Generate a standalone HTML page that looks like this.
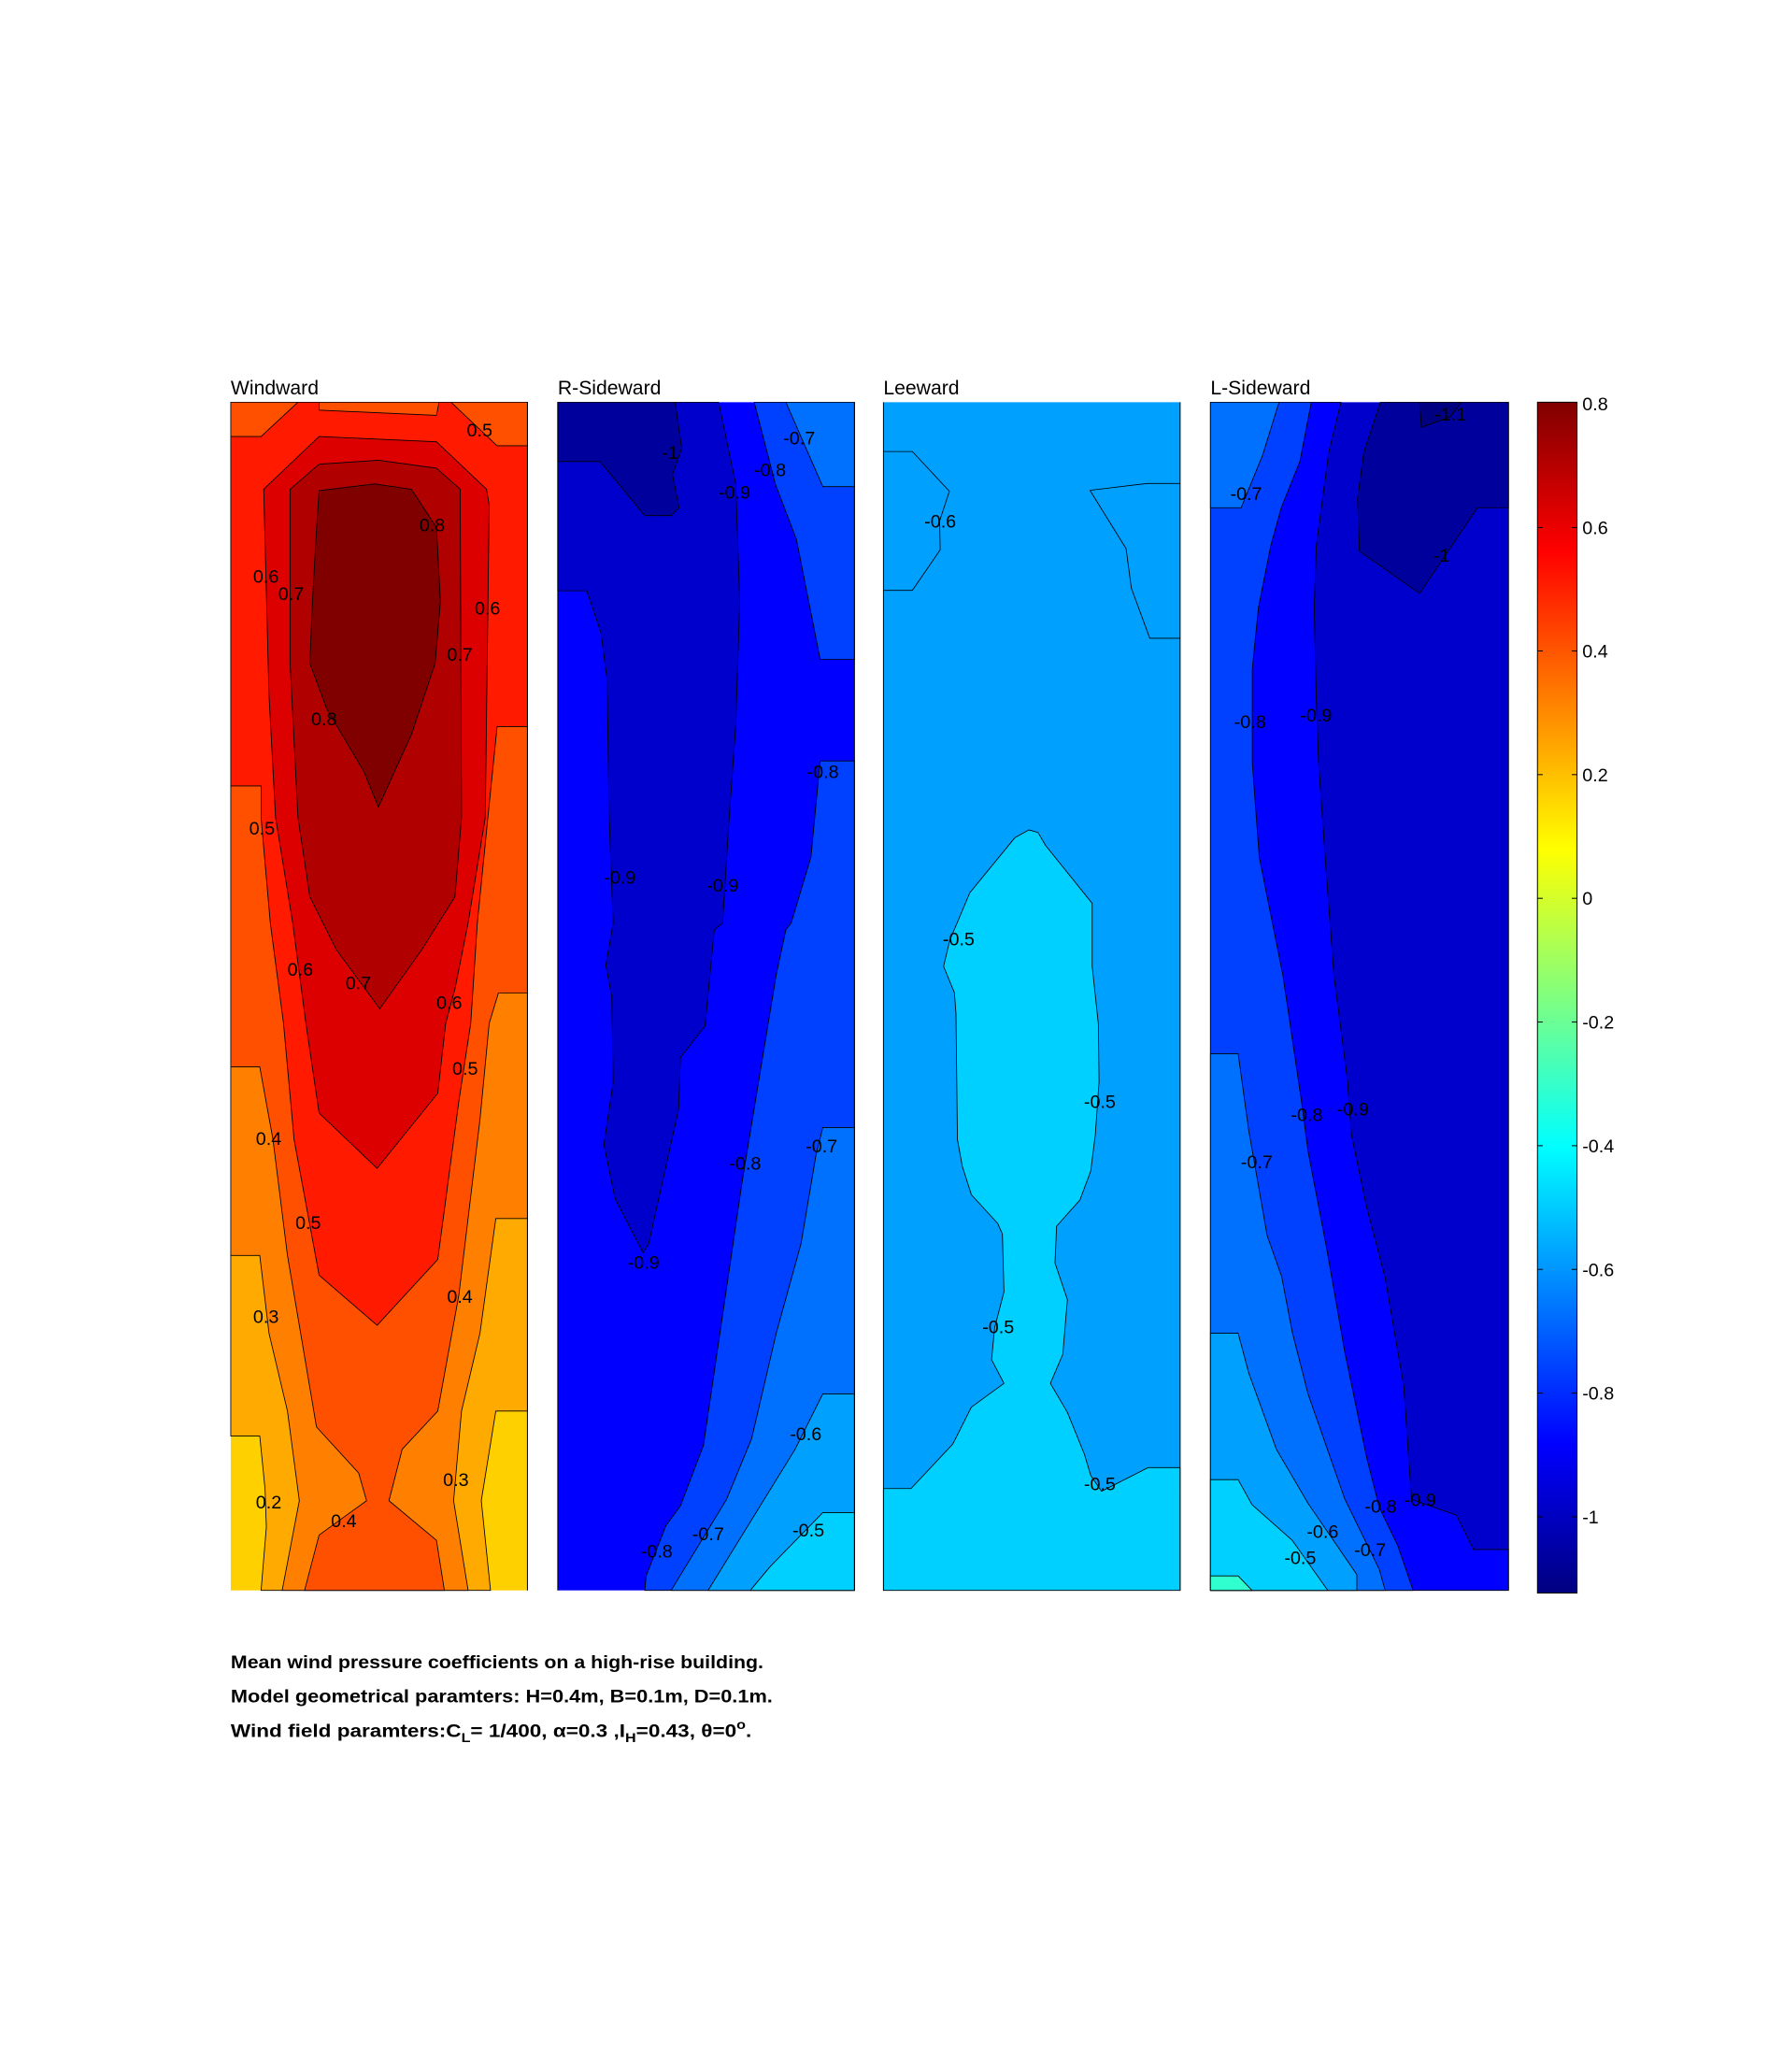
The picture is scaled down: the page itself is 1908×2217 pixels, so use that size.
<!DOCTYPE html>
<html><head><meta charset="utf-8"><style>html,body{margin:0;padding:0;background:#fff}svg{display:block}</style></head>
<body>
<svg xmlns="http://www.w3.org/2000/svg" width="1908" height="2217" viewBox="0 0 1352.2 1571.2" font-family="Liberation Sans, Arial, sans-serif">
<defs>
<linearGradient id="jet" x1="0" y1="1" x2="0" y2="0">
<stop offset="0" stop-color="#000080"/><stop offset="0.125" stop-color="#0000ff"/><stop offset="0.375" stop-color="#00ffff"/><stop offset="0.625" stop-color="#ffff00"/><stop offset="0.875" stop-color="#ff0000"/><stop offset="1" stop-color="#800000"/>
</linearGradient>
</defs>
<rect width="1352.2" height="1571.2" fill="#fff"/>
<g stroke="#000" stroke-width="0.6" stroke-linejoin="round">
<!-- Windward -->
<rect x="175" y="305" width="225" height="901" fill="#ffd000" stroke="none"/>
<polygon fill="#ffaa00" points="175,305 400,305 400,1070 376,1070 365,1138 372,1206 198,1206 202,1158 201,1129 197,1089 175,1089"/>
<polygon fill="#ff8000" points="175,305 400,305 400,924 376,924 364,1011 350,1070 344,1138 355,1206 214,1206 227,1138 218,1070 204,1011 197,952 175,952"/>
<polygon fill="#ff5000" points="175,305 400,305 400,753 378,753 371,776 364,849 348,982 332,1070 305,1099 295,1138 331,1168 337,1206 231,1206 242,1164 278,1138 272,1117 240,1082 228,1011 218,952 207,864 197,809 175,809"/>
<polygon fill="#ff1a00" points="198,331 226,305 242,305 242,311 331,315 333,305 342,305 377,338 400,338 400,551 377,551 370,620 362,700 357,776 348,835 332,955 286,1005 242,967 223,864 215,776 205,700 198,620 198,596 175,596 175,331"/>
<polygon fill="#dd0000" points="200,371 242,331 331,335 369,371 371,383 368,620 355,700 345,750 338,776 332,829 286,886 242,844 232,776 222,700 209,620 204,527"/>
<polygon fill="#b00000" points="220,371 242,352 287,349 331,355 349,371 350,620 345,680 320,720 288,765 255,720 235,680 226,620 220,503"/>
<polygon fill="#800000" points="242,372 284,367 312,371 331,400 334,456 330,503 312,557 287,612 276,585 248,538 235,503 237,456 240,402"/>
<!-- R-Sideward -->
<rect x="423" y="305" width="225" height="901" fill="#0000ff" stroke="none"/>
<polygon fill="#0000cd" points="423,305 545,305 558,367 561,456 558,550 553,620 548,700 541.7,705 534.7,778 516,802 514.7,841 492,943 487.7,950 466.5,909 458,868 465,821 464,756 459.5,732 465,700 462,620 460.4,515 455.7,479.5 445,448 423,448"/>
<polygon fill="#00009c" points="423,305 512,305 517,340 510,360 515,385 509,391 489,391 455,350 423,350"/>
<polygon fill="#0040ff" points="572,305 648,305 648,500 622,500 604,409 588,367"/>
<polygon fill="#0040ff" points="648,577 648,1206 489,1206 490,1195 505,1157 516,1142 533.5,1096 563,895 588.7,739 596,705 600,700 615,650 622,577"/>
<polygon fill="#0070ff" points="596,305 648,305 648,369 624,369"/>
<polygon fill="#0070ff" points="624,855 648,855 648,1206 509,1206 551,1137 570,1091 588.7,1011 607.5,943 619,875"/>
<polygon fill="#00a0ff" points="624,1057 648,1057 648,1206 537,1206 603,1099"/>
<polygon fill="#00d0ff" points="624,1147 648,1147 648,1206 569,1206 584,1188"/>
<!-- Leeward -->
<rect x="670" y="305" width="225" height="901" fill="#00a0ff" stroke="none"/>
<polyline fill="none" points="670,342.4 691.9,342.4 720,372.5 712.6,395 713,417 691.9,447.7 670,447.7"/>
<polyline fill="none" points="826.6,371.8 869.8,366.6 895,366.6"/>
<polyline fill="none" points="826.6,371.8 854,416 858,446 872,484 895,484"/>
<polygon fill="#00d0ff" points="670,1128.8 690.9,1128.8 722.6,1095 736.7,1067 761.4,1049 752,1031 754.3,1007 761.4,979.6 760.2,935.8 756.7,927.8 736.7,906 729.7,884 726.1,864 725,768.6 723.8,752.7 715.6,732.8 720.3,713 735.5,677 769.6,635.3 780.2,629.3 787.2,631.3 793.1,641.3 828.3,685 828.3,732.8 833,776.6 833.5,820.4 830.7,860.2 827.2,888 819,910 801.3,929.8 800.1,957.7 809.5,985.5 806,1027 796.6,1049 809.5,1071 822.5,1103 827.2,1118.9 835.4,1130.8 870.6,1112.9 895,1112.9 895,1206 670,1206"/>
<!-- L-Sideward -->
<rect x="918" y="305" width="226" height="901" fill="#0000cd" stroke="none"/>
<polygon fill="#0000ff" points="918,305 1017,305 1007.7,343 998.3,413.6 996.7,460.6 998.3,531 1000,578 1005,650 1011.7,740 1022,820 1025,861 1036.4,915 1050.5,969 1064.6,1051 1070.5,1137 1104.6,1149 1117.5,1175 1144,1175 1144,1206 918,1206"/>
<polygon fill="#0040ff" points="918,305 994.5,305 985.8,350 971.7,385 963.8,413.6 954.4,460.6 949.7,507.6 949.7,578 955,650 965,700 973,740 987,835 992,873 1006,946 1020,1026 1036.4,1105 1046,1143 1060,1172 1071.7,1206 918,1206"/>
<polygon fill="#0070ff" points="918,305 970,305 957.6,345 941.3,385 918,385"/>
<polygon fill="#0070ff" points="918,799 939,799 947,857 961,937 972,968 980,1010 992,1057 1020,1137 1046,1190 1050.5,1206 918,1206"/>
<polygon fill="#00a0ff" points="918,1011 939,1011 947,1041 968,1099 992,1140 1029,1194 1029,1206 918,1206"/>
<polygon fill="#00d0ff" points="918,1122 939,1122 949.5,1141 980,1168 1007,1206 918,1206"/>
<polygon fill="#30ffd0" points="918,1195 939,1195 949.5,1206 918,1206"/>
<polygon fill="#00009c" points="1046.9,305 1144,305 1144,385 1120.5,385 1076.6,450 1031,418 1029.6,378 1034.3,343"/>
<polygon fill="#000080" points="1076.6,305 1078,324 1100,316 1108,305"/>
</g>
<g stroke="#000" stroke-width="0.7">
<line x1="400" y1="305" x2="400" y2="1206"/>
<line x1="423" y1="305" x2="423" y2="1206"/><line x1="648" y1="305" x2="648" y2="1206"/>
<line x1="670" y1="305" x2="670" y2="1206"/><line x1="895" y1="305" x2="895" y2="1206"/>
<line x1="1144" y1="305" x2="1144" y2="1206"/>
</g>
<!-- Colorbar -->
<rect x="1166" y="305" width="30" height="903" fill="url(#jet)" stroke="#000" stroke-width="0.7"/>
<g stroke="#000" stroke-width="0.7">
<line x1="1166" y1="400" x2="1170" y2="400"/><line x1="1192" y1="400" x2="1196" y2="400"/>
<line x1="1166" y1="493.6" x2="1170" y2="493.6"/><line x1="1192" y1="493.6" x2="1196" y2="493.6"/>
<line x1="1166" y1="587.4" x2="1170" y2="587.4"/><line x1="1192" y1="587.4" x2="1196" y2="587.4"/>
<line x1="1166" y1="681.2" x2="1170" y2="681.2"/><line x1="1192" y1="681.2" x2="1196" y2="681.2"/>
<line x1="1166" y1="775" x2="1170" y2="775"/><line x1="1192" y1="775" x2="1196" y2="775"/>
<line x1="1166" y1="868.8" x2="1170" y2="868.8"/><line x1="1192" y1="868.8" x2="1196" y2="868.8"/>
<line x1="1166" y1="962.6" x2="1170" y2="962.6"/><line x1="1192" y1="962.6" x2="1196" y2="962.6"/>
<line x1="1166" y1="1056.4" x2="1170" y2="1056.4"/><line x1="1192" y1="1056.4" x2="1196" y2="1056.4"/>
<line x1="1166" y1="1150.2" x2="1170" y2="1150.2"/><line x1="1192" y1="1150.2" x2="1196" y2="1150.2"/>
</g>
<g font-size="14" fill="#000">
<text x="1200" y="311">0.8</text><text x="1200" y="405">0.6</text><text x="1200" y="498.6">0.4</text><text x="1200" y="592.4">0.2</text><text x="1200" y="686.2">0</text><text x="1200" y="780">-0.2</text><text x="1200" y="873.8">-0.4</text><text x="1200" y="967.6">-0.6</text><text x="1200" y="1061.4">-0.8</text><text x="1200" y="1155.2">-1</text>
</g>
<!-- Titles -->
<g font-size="15" fill="#000">
<text x="175" y="299">Windward</text><text x="423" y="299">R-Sideward</text><text x="670" y="299">Leeward</text><text x="918" y="299">L-Sideward</text>
</g>
<!-- Contour labels -->
<g font-size="14" fill="#000">
<text x="354" y="331">0.5</text><text x="318" y="403">0.8</text><text x="192" y="442">0.6</text><text x="211" y="455">0.7</text><text x="360" y="466">0.6</text><text x="339" y="501">0.7</text><text x="236" y="550">0.8</text><text x="189" y="633">0.5</text><text x="218" y="740">0.6</text><text x="262" y="750">0.7</text><text x="331" y="765">0.6</text><text x="343" y="815">0.5</text><text x="194" y="868">0.4</text><text x="224" y="932">0.5</text><text x="339" y="988">0.4</text><text x="192" y="1003">0.3</text><text x="336" y="1127">0.3</text><text x="194" y="1144">0.2</text><text x="251" y="1158">0.4</text>
<text x="502" y="348">-1</text><text x="594" y="337">-0.7</text><text x="572" y="361">-0.8</text><text x="545" y="378">-0.9</text><text x="612" y="590">-0.8</text><text x="458" y="670">-0.9</text><text x="536" y="676">-0.9</text><text x="553" y="887">-0.8</text><text x="611" y="874">-0.7</text><text x="476" y="962">-0.9</text><text x="599" y="1092">-0.6</text><text x="601" y="1165">-0.5</text><text x="525" y="1168">-0.7</text><text x="486" y="1181">-0.8</text>
<text x="701" y="400">-0.6</text><text x="715" y="717">-0.5</text><text x="822" y="840">-0.5</text><text x="745" y="1011">-0.5</text><text x="822" y="1130">-0.5</text>
<text x="1088" y="319">-1.1</text><text x="933" y="379">-0.7</text><text x="1087" y="426">-1</text><text x="936" y="552">-0.8</text><text x="986" y="547">-0.9</text><text x="979" y="850">-0.8</text><text x="1014" y="846">-0.9</text><text x="941" y="886">-0.7</text><text x="1035" y="1147">-0.8</text><text x="1065" y="1142">-0.9</text><text x="991" y="1166">-0.6</text><text x="1027" y="1180">-0.7</text><text x="974" y="1186">-0.5</text>
</g>
<!-- Caption -->
<g font-size="14" font-weight="bold" fill="#000">
<text x="175" y="1265" textLength="404" lengthAdjust="spacingAndGlyphs">Mean wind pressure coefficients on a high-rise building.</text>
<text x="175" y="1291" textLength="411" lengthAdjust="spacingAndGlyphs">Model geometrical paramters: H=0.4m, B=0.1m, D=0.1m.</text>
<text x="175" y="1317" textLength="395" lengthAdjust="spacingAndGlyphs">Wind field paramters:C<tspan font-size="10" dy="4">L</tspan><tspan dy="-4">= 1/400, α=0.3 ,I</tspan><tspan font-size="10" dy="4">H</tspan><tspan dy="-4">=0.43, θ=0</tspan><tspan font-size="10" dy="-6">o</tspan><tspan dy="6">.</tspan></text>
</g>
</svg>
</body></html>
